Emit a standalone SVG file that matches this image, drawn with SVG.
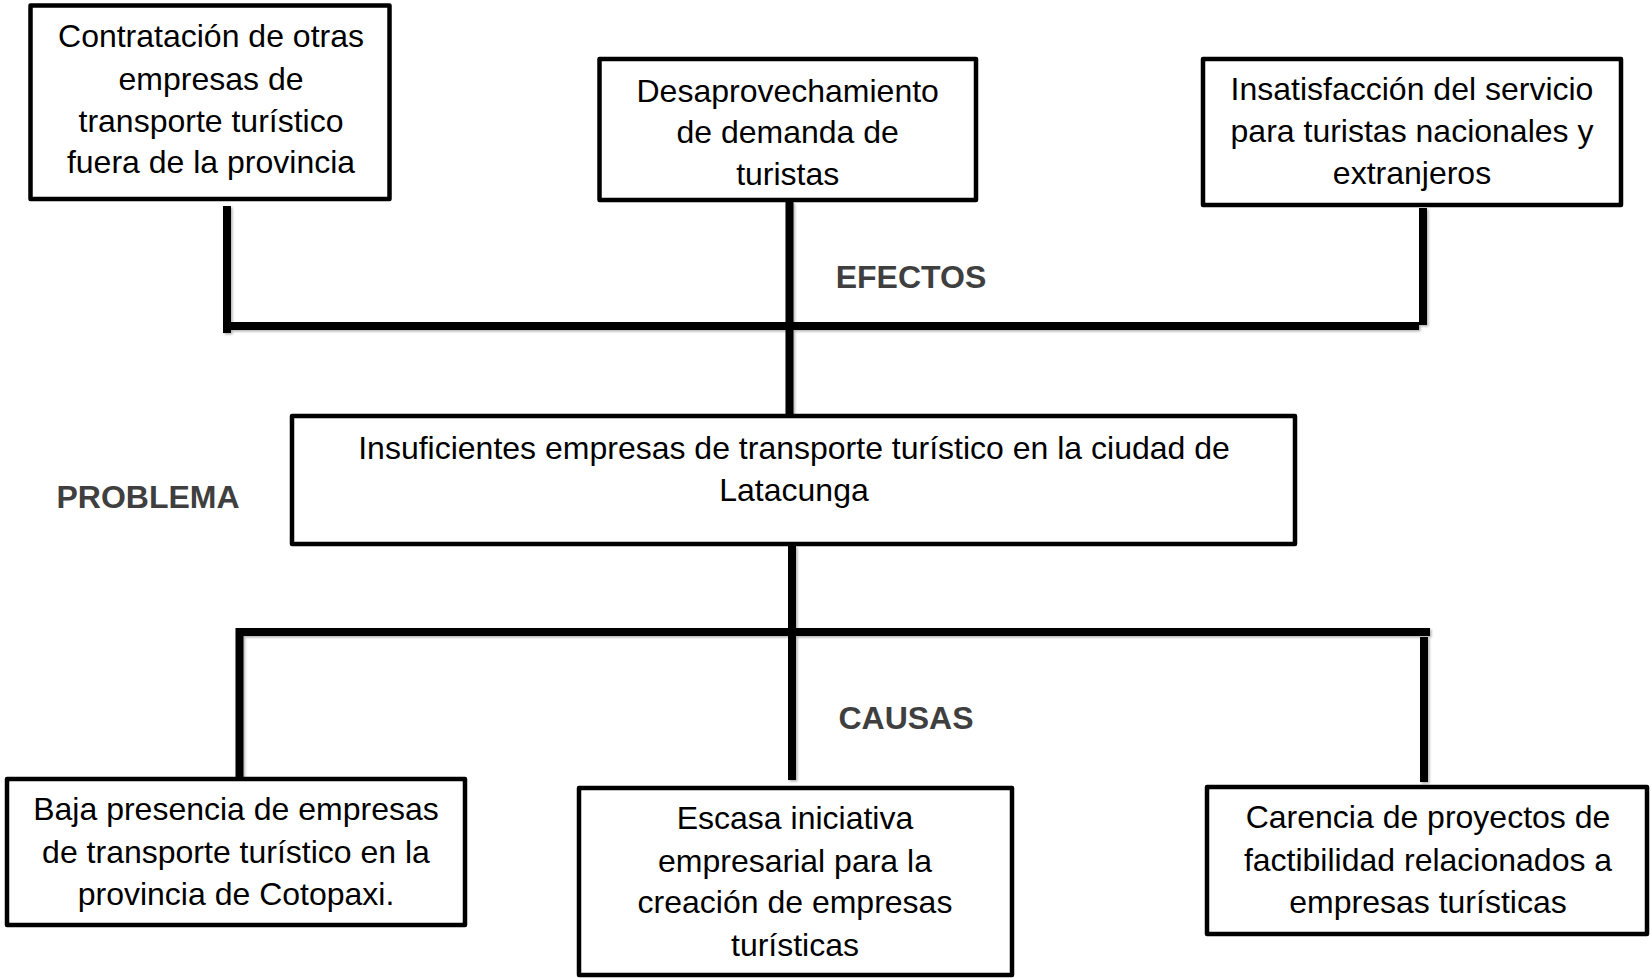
<svg xmlns="http://www.w3.org/2000/svg" width="1651" height="978" viewBox="0 0 1651 978">
<defs>
<style>
.box{fill:#fff;stroke:#000;stroke-width:4.5;stroke-linejoin:round}
.t{font-family:"Liberation Sans",Arial,Helvetica,sans-serif;font-size:32px;fill:#000;text-anchor:middle}
.h{font-family:"Liberation Sans",Arial,Helvetica,sans-serif;font-size:32px;font-weight:bold;fill:#3f3f3f;text-anchor:middle}
.c{fill:none;stroke:#000;stroke-width:8}
</style>
<filter id="sh" x="-5%" y="-5%" width="110%" height="110%">
<feDropShadow dx="1.5" dy="1.5" stdDeviation="1" flood-color="#000" flood-opacity="0.3"/>
</filter>
</defs>
<rect width="1651" height="978" fill="#fff"/>
<g id="connectors" filter="url(#sh)">
<path class="c" d="M227,206 V333"/>
<path class="c" d="M227,326 H1419"/>
<path class="c" d="M1423,208 V325"/>
<path class="c" d="M789.5,202 V414"/>
<path class="c" d="M792,546 V780"/>
<path class="c" d="M238,632 H1430"/>
<path class="c" d="M239.5,628 V777"/>
<path class="c" d="M1424,637 V782"/>
</g>
<g id="efecto1">
<rect class="box" x="30.5" y="5.5" width="359" height="193.5"/>
<text class="t" x="211" y="46.7">Contratación de otras</text>
<text class="t" x="211" y="90">empresas de</text>
<text class="t" x="211" y="131.7">transporte turístico</text>
<text class="t" x="211" y="173.3">fuera de la provincia</text>
</g>
<g id="efecto2">
<rect class="box" x="599.5" y="59" width="376.5" height="141"/>
<text class="t" x="787.7" y="101.7">Desaprovechamiento</text>
<text class="t" x="787.7" y="143">de demanda de</text>
<text class="t" x="787.7" y="185">turistas</text>
</g>
<g id="efecto3">
<rect class="box" x="1203" y="59" width="418" height="146"/>
<text class="t" x="1412" y="100">Insatisfacción del servicio</text>
<text class="t" x="1412" y="142">para turistas nacionales y</text>
<text class="t" x="1412" y="183.5">extranjeros</text>
</g>
<g id="label-efectos">
<text class="h" x="911" y="288">EFECTOS</text>
</g>
<g id="problema">
<rect class="box" x="292" y="416" width="1003" height="128"/>
<text class="t" x="794" y="459">Insuficientes empresas de transporte turístico en la ciudad de</text>
<text class="t" x="794" y="500.7">Latacunga</text>
</g>
<g id="label-problema">
<text class="h" x="148" y="508">PROBLEMA</text>
</g>
<g id="label-causas">
<text class="h" x="906" y="729.3">CAUSAS</text>
</g>
<g id="causa1">
<rect class="box" x="7" y="779" width="458" height="146"/>
<text class="t" x="236" y="820">Baja presencia de empresas</text>
<text class="t" x="236" y="862.7">de transporte turístico en la</text>
<text class="t" x="236" y="905">provincia de Cotopaxi.</text>
</g>
<g id="causa2">
<rect class="box" x="579" y="788" width="433" height="187"/>
<text class="t" x="795" y="829.3">Escasa iniciativa</text>
<text class="t" x="795" y="871.7">empresarial para la</text>
<text class="t" x="795" y="913">creación de empresas</text>
<text class="t" x="795" y="956">turísticas</text>
</g>
<g id="causa3">
<rect class="box" x="1207" y="787" width="440" height="147"/>
<text class="t" x="1428" y="828.3">Carencia de proyectos de</text>
<text class="t" x="1428" y="870.7">factibilidad relacionados a</text>
<text class="t" x="1428" y="912.7">empresas turísticas</text>
</g>
</svg>
